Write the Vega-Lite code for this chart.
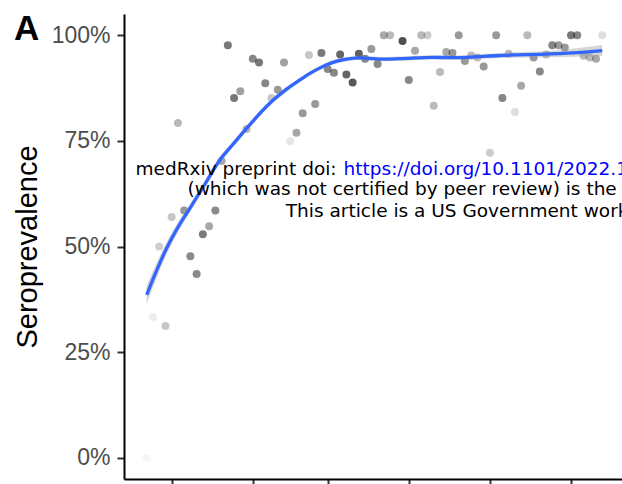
{
  "$schema": "https://vega.github.io/schema/vega-lite/v6.json",
  "width": 498,
  "height": 465,
  "autosize": {"type": "none"},
  "padding": {"left": 124, "top": 14, "right": 0, "bottom": 5},
  "background": "white",
  "config": {
    "view": {"stroke": null},
    "axis": {
      "grid": false,
      "domainColor": "#000000",
      "domainWidth": 2,
      "tickColor": "#333333",
      "tickWidth": 2,
      "tickSize": 7,
      "labelFont": "Liberation Sans",
      "labelFontSize": 23,
      "labelColor": "#4d4d4d",
      "labelPadding": 7,
      "titleFont": "Liberation Sans",
      "titleFontSize": 29,
      "titleColor": "#000000",
      "titleFontWeight": "normal"
    }
  },
  "datasets": {
    "pts": [
      {"x": 0, "y": 0.0, "w": 0.04},
      {"x": 1, "y": 0.333, "w": 0.07},
      {"x": 2, "y": 0.5, "w": 0.19},
      {"x": 3, "y": 0.312, "w": 0.22},
      {"x": 4, "y": 0.570, "w": 0.22},
      {"x": 5, "y": 0.792, "w": 0.28},
      {"x": 6, "y": 0.585, "w": 0.40},
      {"x": 7, "y": 0.477, "w": 0.46},
      {"x": 8, "y": 0.435, "w": 0.46},
      {"x": 9, "y": 0.529, "w": 0.52},
      {"x": 10, "y": 0.548, "w": 0.34},
      {"x": 11, "y": 0.585, "w": 0.46},
      {"x": 12, "y": 0.702, "w": 0.34},
      {"x": 13, "y": 0.976, "w": 0.53},
      {"x": 14, "y": 0.851, "w": 0.53},
      {"x": 15, "y": 0.867, "w": 0.37},
      {"x": 16, "y": 0.778, "w": 0.29},
      {"x": 17, "y": 0.944, "w": 0.47},
      {"x": 18, "y": 0.935, "w": 0.53},
      {"x": 19, "y": 0.886, "w": 0.47},
      {"x": 20, "y": 0.851, "w": 0.22},
      {"x": 21, "y": 0.871, "w": 0.40},
      {"x": 22, "y": 0.935, "w": 0.37},
      {"x": 23, "y": 0.749, "w": 0.10},
      {"x": 24, "y": 0.769, "w": 0.34},
      {"x": 25, "y": 0.815, "w": 0.40},
      {"x": 26, "y": 0.953, "w": 0.22},
      {"x": 27, "y": 0.837, "w": 0.40},
      {"x": 28, "y": 0.958, "w": 0.53},
      {"x": 29, "y": 0.920, "w": 0.47},
      {"x": 30, "y": 0.911, "w": 0.47},
      {"x": 31, "y": 0.954, "w": 0.60},
      {"x": 32, "y": 0.907, "w": 0.60},
      {"x": 33, "y": 0.888, "w": 0.65},
      {"x": 34, "y": 0.956, "w": 0.62},
      {"x": 35, "y": 0.944, "w": 0.47},
      {"x": 36, "y": 0.967, "w": 0.40},
      {"x": 37, "y": 0.932, "w": 0.47},
      {"x": 38, "y": 1.0, "w": 0.34},
      {"x": 39, "y": 1.0, "w": 0.27},
      {"x": 41, "y": 0.986, "w": 0.69},
      {"x": 42, "y": 0.894, "w": 0.47},
      {"x": 43, "y": 0.963, "w": 0.34},
      {"x": 44, "y": 1.0, "w": 0.27},
      {"x": 45, "y": 1.0, "w": 0.20},
      {"x": 46, "y": 0.833, "w": 0.27},
      {"x": 47, "y": 0.913, "w": 0.27},
      {"x": 48, "y": 0.960, "w": 0.34},
      {"x": 49, "y": 0.958, "w": 0.40},
      {"x": 50, "y": 1.0, "w": 0.40},
      {"x": 51, "y": 0.939, "w": 0.40},
      {"x": 52, "y": 0.952, "w": 0.27},
      {"x": 53, "y": 0.947, "w": 0.27},
      {"x": 54, "y": 0.926, "w": 0.40},
      {"x": 55, "y": 0.722, "w": 0.20},
      {"x": 56, "y": 1.0, "w": 0.40},
      {"x": 57, "y": 0.851, "w": 0.47},
      {"x": 58, "y": 0.956, "w": 0.27},
      {"x": 59, "y": 0.818, "w": 0.13},
      {"x": 60, "y": 0.880, "w": 0.34},
      {"x": 61, "y": 1.0, "w": 0.27},
      {"x": 62, "y": 0.947, "w": 0.40},
      {"x": 63, "y": 0.914, "w": 0.47},
      {"x": 64, "y": 0.954, "w": 0.27},
      {"x": 65, "y": 0.976, "w": 0.47},
      {"x": 66, "y": 0.976, "w": 0.40},
      {"x": 67, "y": 0.971, "w": 0.40},
      {"x": 68, "y": 1.0, "w": 0.53},
      {"x": 69, "y": 1.0, "w": 0.47},
      {"x": 70, "y": 0.951, "w": 0.27},
      {"x": 71, "y": 0.947, "w": 0.27},
      {"x": 72, "y": 0.944, "w": 0.34},
      {"x": 73, "y": 1.0, "w": 0.13}
    ],
    "fit": [
      {"x": 0, "y": 0.3855},
      {"x": 1.49, "y": 0.4398},
      {"x": 3.205, "y": 0.4964},
      {"x": 5.016, "y": 0.546},
      {"x": 6.939, "y": 0.5908},
      {"x": 9.343, "y": 0.6478},
      {"x": 11.75, "y": 0.7054},
      {"x": 13.83, "y": 0.7418},
      {"x": 16.03, "y": 0.7799},
      {"x": 18.16, "y": 0.8152},
      {"x": 20.24, "y": 0.8459},
      {"x": 22.16, "y": 0.8694},
      {"x": 24.57, "y": 0.8943},
      {"x": 26.17, "y": 0.9096},
      {"x": 27.78, "y": 0.9226},
      {"x": 29.38, "y": 0.9332},
      {"x": 31.79, "y": 0.9426},
      {"x": 34.19, "y": 0.9462},
      {"x": 38.19, "y": 0.9431},
      {"x": 40.59, "y": 0.9443},
      {"x": 45.88, "y": 0.9474},
      {"x": 49.41, "y": 0.9467},
      {"x": 56.62, "y": 0.9518},
      {"x": 67.31, "y": 0.9573},
      {"x": 73.0, "y": 0.9636}
    ],
    "band": [
      {"x": 0, "y": 0.3635, "upper": 0.4075},
      {"x": 1.49, "y": 0.4218, "upper": 0.4578},
      {"x": 3.205, "y": 0.4824, "upper": 0.5104},
      {"x": 5.016, "y": 0.534, "upper": 0.558},
      {"x": 6.939, "y": 0.5808, "upper": 0.6008},
      {"x": 9.343, "y": 0.6388, "upper": 0.6568},
      {"x": 11.75, "y": 0.6974, "upper": 0.7134},
      {"x": 13.83, "y": 0.7348, "upper": 0.7488},
      {"x": 16.03, "y": 0.7729, "upper": 0.7869},
      {"x": 18.16, "y": 0.8092, "upper": 0.8212},
      {"x": 20.24, "y": 0.8399, "upper": 0.8519},
      {"x": 22.16, "y": 0.8634, "upper": 0.8754},
      {"x": 24.57, "y": 0.8893, "upper": 0.8993},
      {"x": 26.17, "y": 0.9046, "upper": 0.9146},
      {"x": 27.78, "y": 0.9176, "upper": 0.9276},
      {"x": 29.38, "y": 0.9282, "upper": 0.9382},
      {"x": 31.79, "y": 0.9376, "upper": 0.9476},
      {"x": 34.19, "y": 0.9412, "upper": 0.9512},
      {"x": 38.19, "y": 0.9381, "upper": 0.9481},
      {"x": 40.59, "y": 0.9393, "upper": 0.9493},
      {"x": 45.88, "y": 0.9424, "upper": 0.9524},
      {"x": 49.41, "y": 0.9417, "upper": 0.9517},
      {"x": 56.62, "y": 0.9458, "upper": 0.9578},
      {"x": 67.31, "y": 0.9483, "upper": 0.9663},
      {"x": 73.0, "y": 0.9506, "upper": 0.9766}
    ],
    "notes": [
      {"x": -1.79, "y": 0.6688, "text": "medRxiv preprint doi: ", "part": "black"},
      {"x": 31.54, "y": 0.6688, "text": "https://doi.org/10.1101/2022.1", "part": "url"},
      {"x": 6.54, "y": 0.6216, "text": "(which was not certified by peer review) is the author/funder, who has granted medRxiv a license to display the preprint in perpetuity.", "part": "black"},
      {"x": 22.29, "y": 0.5704, "text": "This article is a US Government work. It is not subject to copyright under 17 USC 105 and is also made available", "part": "black"},
      {"x": -21.27, "y": 0.9891, "text": "A", "part": "tag"}
    ]
  },
  "encoding": {
    "x": {
      "field": "x",
      "type": "quantitative",
      "scale": {"domain": [-3.64, 76.17], "nice": false, "zero": false},
      "axis": {"values": [4, 17, 29, 42, 55.06, 68.05], "labels": false, "title": null}
    },
    "y": {
      "field": "y",
      "type": "quantitative",
      "scale": {"domain": [-0.05, 1.05], "nice": false, "zero": false},
      "axis": {"values": [0, 0.25, 0.5, 0.75, 1], "format": ".0%", "title": "Seroprevalence", "titlePadding": 9}
    }
  },
  "layer": [
    {
      "data": {"name": "pts"},
      "mark": {"type": "circle", "size": 64, "color": "#000000"},
      "encoding": {
        "opacity": {"field": "w", "type": "quantitative", "scale": {"domain": [0, 1], "range": [0, 1]}, "legend": null}
      }
    },
    {
      "data": {"name": "band"},
      "mark": {"type": "area", "color": "#999999", "opacity": 0.4, "interpolate": "monotone"},
      "encoding": {"y2": {"field": "upper"}}
    },
    {
      "data": {"name": "fit"},
      "mark": {"type": "line", "color": "#3366FF", "strokeWidth": 3.3, "interpolate": "monotone"}
    },
    {
      "data": {"name": "notes"},
      "transform": [{"filter": "datum.part === 'black'"}],
      "mark": {"type": "text", "align": "left", "baseline": "alphabetic", "font": "DejaVu Sans", "fontSize": 18.5, "color": "#000000"},
      "encoding": {"text": {"field": "text"}}
    },
    {
      "data": {"name": "notes"},
      "transform": [{"filter": "datum.part === 'url'"}],
      "mark": {"type": "text", "align": "left", "baseline": "alphabetic", "font": "DejaVu Sans", "fontSize": 18.5, "color": "#0000FF"},
      "encoding": {"text": {"field": "text"}}
    },
    {
      "data": {"name": "notes"},
      "transform": [{"filter": "datum.part === 'tag'"}],
      "mark": {"type": "text", "align": "left", "baseline": "alphabetic", "font": "Liberation Sans", "fontSize": 35, "fontWeight": "bold", "color": "#000000"},
      "encoding": {"text": {"field": "text"}}
    }
  ]
}
